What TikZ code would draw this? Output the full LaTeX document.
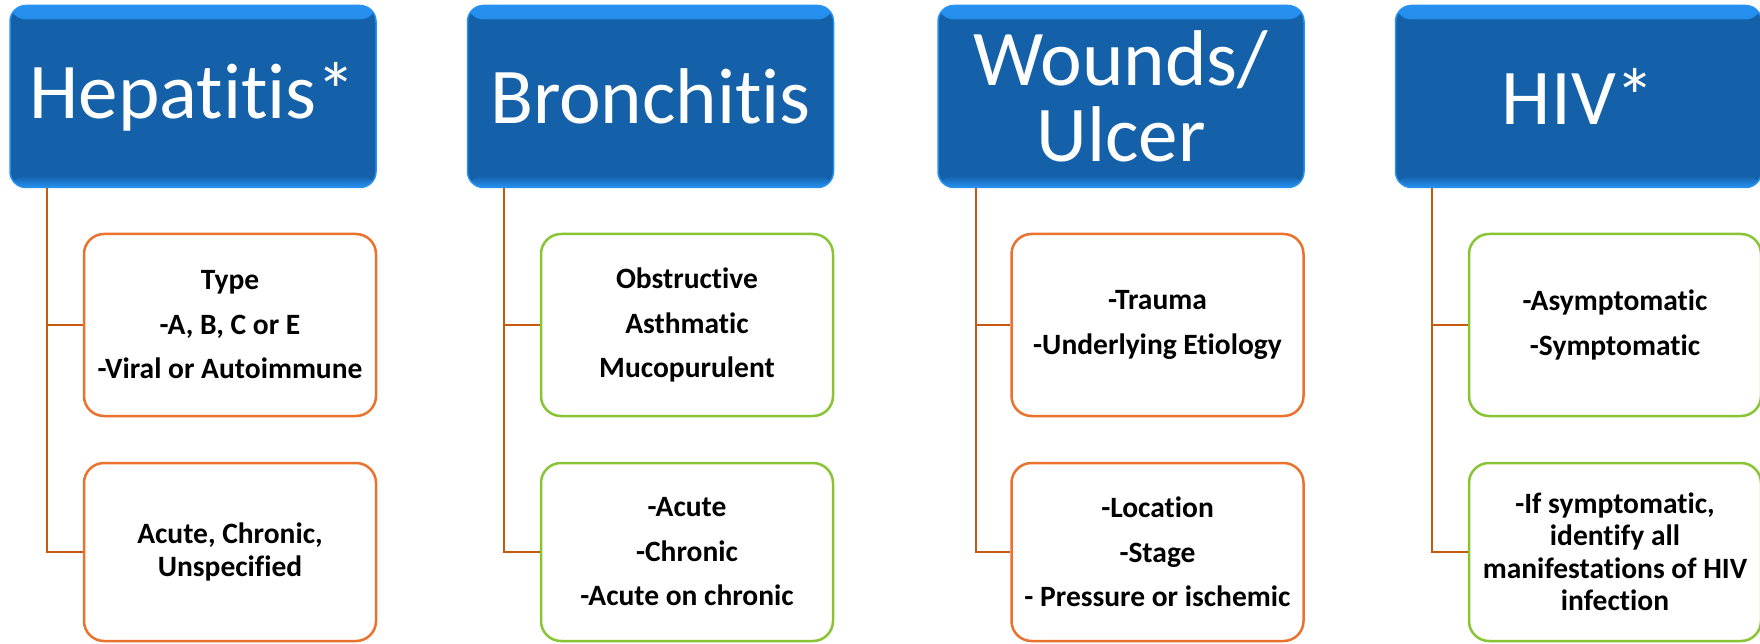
\documentclass[tikz,border=0pt]{standalone}
\usepackage{fontspec}
\setmainfont{Carlito}[Ligatures=NoCommon, RawFeature={-liga,-clig,-dlig}]
\definecolor{hdblue}{RGB}{20,97,169}
\definecolor{hdedge}{RGB}{38,145,240}
\definecolor{itemorange}{RGB}{235,114,45}
\definecolor{itemgreen}{RGB}{137,196,52}
\definecolor{linkbrown}{RGB}{197,90,17}
\begin{document}
\begin{tikzpicture}[
			x=1pt, y=-1pt,
			head/.style={rectangle, rounded corners=16pt, fill=hdblue, draw=hdedge, line width=1.5pt,
				minimum width=366pt, minimum height=182pt, text=white, align=center,
				font=\fontsize{79}{76}\selectfont,
				path picture={
					\fill[top color=hdedge, bottom color=hdblue] (path picture bounding box.north west) rectangle ([yshift=-14pt]path picture bounding box.north east);
					\fill[top color=hdblue, bottom color=hdedge] ([yshift=12pt]path picture bounding box.south west) rectangle (path picture bounding box.south east);
				}},
			item/.style={rectangle, rounded corners=20pt, fill=white, line width=2.5pt,
				minimum width=292pt, align=center, font=\bfseries\fontsize{29.5}{32.5}\selectfont},
			warm/.style={item, draw=itemorange},
			cool/.style={item, draw=itemgreen},
			link/.style={draw=linkbrown, line width=2.5pt},
			]

			\useasboundingbox (0,0) rectangle (1760,644);

			% --- Headers ---
			\node[head] (hep) at (193,96.5) {Hepatitis*};
			\node[head] (bro) at (650.5,96.5) {Bronchitis};
			\node[head] (wnd) at (1121,96.5) {Wounds/\\Ulcer};
			\node[head] (hiv) at (1578.5,96.5) {HIV*};

			% --- Upper boxes ---
			\node[warm, minimum height=182pt] (hepA) at (230,325) {Type\\[12pt]-A, B, C or E\\[12pt]-Viral or Autoimmune};
			\node[cool, minimum height=182pt] (broA) at (687,325) {Obstructive\\[12pt]Asthmatic\\[12pt]Mucopurulent};
			\node[warm, minimum height=182pt] (wndA) at (1157.5,325) {-Trauma\\[12pt]-Underlying Etiology};
			\node[cool, minimum height=182pt] (hivA) at (1615,325) {-Asymptomatic\\[12pt]-Symptomatic};

			% --- Lower boxes ---
			\node[warm, minimum height=178pt] (hepB) at (230,552) {Acute, Chronic,\\Unspecified};
			\node[cool, minimum height=178pt] (broB) at (687,552) {-Acute\\[12pt]-Chronic\\[12pt]-Acute on chronic};
			\node[warm, minimum height=178pt] (wndB) at (1157.5,552) {-Location\\[12pt]-Stage\\[12pt]- Pressure or ischemic};
			\node[cool, minimum height=178pt] (hivB) at (1615,552) {-If symptomatic,\\identify all\\manifestations of HIV\\infection};

			% Stems under the headers
			\coordinate (hepL) at (47,188);
			\coordinate (broL) at (504,188);
			\coordinate (wndL) at (976,188);
			\coordinate (hivL) at (1432,188);

			% --- Connectors ---
			\draw[link] (hepL) |- (hepA.west) (hepL) |- (hepB.west);
			\draw[link] (broL) |- (broA.west) (broL) |- (broB.west);
			\draw[link] (wndL) |- (wndA.west) (wndL) |- (wndB.west);
			\draw[link] (hivL) |- (hivA.west) (hivL) |- (hivB.west);

		\end{tikzpicture}
\end{document}
